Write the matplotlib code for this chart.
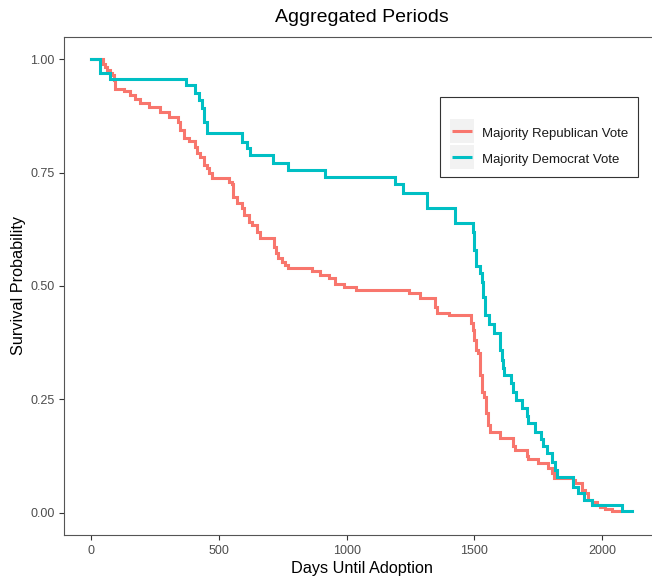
import matplotlib
matplotlib.use("Agg")
import matplotlib.pyplot as plt
from matplotlib.patches import Rectangle
from matplotlib.lines import Line2D
from matplotlib.legend_handler import HandlerBase

plt.rcParams['font.family'] = ['Liberation Sans', 'DejaVu Sans']

# ---- data ----
rep_days = [0, 45, 55, 62, 75, 82, 88, 92, 95, 127, 151, 173, 193, 225, 271, 303,
            339, 349, 362, 382, 408, 414, 427, 440, 453, 460, 473, 538, 551, 557,
            571, 590, 597, 616, 629, 649, 662, 717, 724, 733, 747, 760, 772, 864,
            896, 929, 955, 988, 1037, 1242, 1287, 1346, 1353, 1402, 1488, 1495,
            1500, 1506, 1515, 1522, 1528, 1538, 1545, 1554, 1561, 1600, 1652, 1659,
            1704, 1711, 1750, 1789, 1802, 1811, 1887, 1893, 1919, 1932, 1945, 1959,
            1978, 1991, 2011, 2037, 2069]
rep_surv = [1.0, 0.99, 0.984, 0.976, 0.970, 0.965, 0.955, 0.945, 0.934, 0.929, 0.921,
            0.912, 0.904, 0.895, 0.884, 0.873, 0.862, 0.844, 0.826, 0.820, 0.807,
            0.793, 0.785, 0.767, 0.760, 0.749, 0.738, 0.730, 0.725, 0.697, 0.684,
            0.671, 0.657, 0.642, 0.635, 0.620, 0.605, 0.587, 0.572, 0.561, 0.554,
            0.546, 0.539, 0.532, 0.524, 0.517, 0.504, 0.498, 0.491, 0.484, 0.473,
            0.454, 0.441, 0.436, 0.418, 0.403, 0.381, 0.359, 0.352, 0.304, 0.267,
            0.256, 0.219, 0.193, 0.179, 0.164, 0.146, 0.138, 0.124, 0.118, 0.109,
            0.098, 0.087, 0.076, 0.072, 0.065, 0.050, 0.043, 0.028, 0.024, 0.017,
            0.013, 0.0075, 0.004, 0.004]

dem_days = [0, 34, 73, 373, 408, 421, 434, 443, 453, 590, 610, 623, 711, 772, 916,
            1190, 1222, 1315, 1424, 1496, 1500, 1505, 1523, 1530, 1535, 1540, 1555,
            1575, 1600, 1606, 1612, 1616, 1642, 1652, 1662, 1685, 1705, 1711, 1737,
            1760, 1767, 1785, 1802, 1815, 1822, 1884, 1906, 1928, 1959, 2076, 2115]
dem_surv = [1.0, 0.970, 0.957, 0.943, 0.926, 0.910, 0.893, 0.862, 0.837, 0.818,
            0.804, 0.789, 0.772, 0.756, 0.740, 0.724, 0.706, 0.672, 0.638, 0.620,
            0.580, 0.544, 0.528, 0.509, 0.475, 0.436, 0.417, 0.396, 0.359, 0.337,
            0.320, 0.304, 0.285, 0.267, 0.248, 0.230, 0.213, 0.197, 0.179, 0.163,
            0.146, 0.131, 0.112, 0.095, 0.078, 0.057, 0.043, 0.028, 0.017, 0.004,
            0.004]

labels = ["Majority Republican Vote", "Majority Democrat Vote"]
colors = ["#F8766D", "#00BFC4"]
x_ticks = [0, 500, 1000, 1500, 2000]
y_ticks = [0.0, 0.25, 0.50, 0.75, 1.00]

W, H = 652, 576
fig = plt.figure(figsize=(W / 100, H / 100), dpi=100)
ax = fig.add_axes([64 / W, 1 - 535 / H, (660 - 64) / W, (535 - 36.7) / H])

lines = []
for d, s, c in zip([rep_days, dem_days], [rep_surv, dem_surv], colors):
    ln, = ax.step(d, s, where='post', color=c, lw=2.2, solid_joinstyle='miter')
    lines.append(ln)

ax.set_xlim(-106, 2226)
ax.set_ylim(-0.0492, 1.0498)
ax.set_xticks(x_ticks)
ax.set_xticklabels([str(v) for v in x_ticks])
ax.set_yticks(y_ticks)
ax.set_yticklabels([f"{v:.2f}" for v in y_ticks])

for sp in ['left', 'bottom', 'top', 'right']:
    ax.spines[sp].set_color('#555555')
    ax.spines[sp].set_linewidth(0.8)

ax.tick_params(length=3.3, width=0.8, color='#333333', labelsize=9,
               labelcolor='#4D4D4D', pad=3.6)

ax.set_xlabel("Days Until Adoption", fontsize=11.7, color='black', va='center')
ax.xaxis.set_label_coords(0.5, -(569 - 535) / (535 - 36.7))
ax.set_ylabel("Survival Probability", fontsize=11.7, color='black', va='center')
ax.yaxis.set_label_coords((18.3 - 64) / (660 - 64), 0.5)

fig.text(362 / W, 1 - 18 / H, "Aggregated Periods", fontsize=14,
         ha='center', va='center', color='black')


class KeyHandler(HandlerBase):
    """ggplot-like legend key: grey square with a centred line segment."""
    def create_artists(self, legend, orig_handle, xdescent, ydescent, width,
                       height, fontsize, trans):
        size = 17.4  # points (~24 px)
        cy = (height - ydescent) / 2.0
        x0 = -xdescent + (width - size) / 2.0
        rect = Rectangle((x0, cy - size / 2.0), size, size, facecolor='#F2F2F2',
                         edgecolor='none', transform=trans)
        inset = 1.3
        ln = Line2D([x0 + inset, x0 + size - inset], [cy, cy],
                    color=orig_handle.get_color(), lw=2.2,
                    solid_capstyle='butt', transform=trans)
        return [rect, ln]


fs = 9.5
leg = fig.legend(lines, labels, handler_map={Line2D: KeyHandler()},
                 loc='upper left', bbox_to_anchor=(440 / W, 1 - 96.7 / H),
                 bbox_transform=fig.transFigure, title=' ', fontsize=fs,
                 title_fontsize=6.5, frameon=True, fancybox=False,
                 edgecolor='#333333', framealpha=1, borderpad=0.75,
                 labelspacing=0.68, handlelength=1.83, handleheight=1.6,
                 handletextpad=0.62, borderaxespad=0)
leg.get_frame().set_linewidth(0.8)
for t in leg.get_texts():
    t.set_color('#1A1A1A')

fig.savefig("out.png", dpi=100)
